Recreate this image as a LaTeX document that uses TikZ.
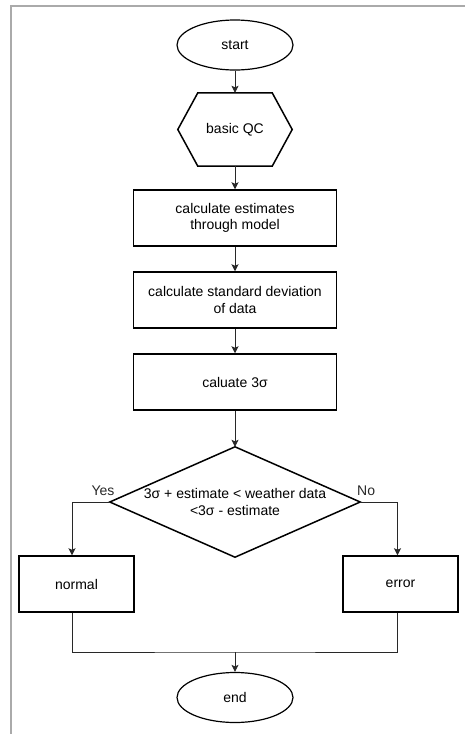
\documentclass[tikz,border=0pt]{standalone}
\usepackage{fontspec}
\setmainfont{Liberation Sans}
\usepackage{tikz}
\usetikzlibrary{arrows.meta,shapes.geometric}
\definecolor{dLine}{RGB}{40,40,40}
\definecolor{dFrame}{RGB}{170,170,170}

\begin{document}
\begin{tikzpicture}[x=1pt,y=1pt,font=\fontsize{14}{16.7}\selectfont,
  bx/.style={draw=black,line width=1.5pt,align=center,minimum width=203pt,minimum height=56pt,inner sep=0pt},
  sB/.style={bx,minimum width=115pt},
  term/.style={ellipse,draw=black,line width=1.2pt,minimum width=116pt,minimum height=50pt,inner sep=0pt},
  hx/.style={align=center,minimum width=114pt,minimum height=73pt,inner sep=0pt},
  dm/.style={align=center,minimum width=250pt,minimum height=110pt,inner sep=0pt},
  edge/.style={draw=black,line width=1.5pt,line join=miter},
  ar/.style={-{Stealth[length=7pt,width=7pt,inset=1.5pt]},line width=0.9pt,dLine},
  ln/.style={line width=0.9pt,dLine},
  lb/.style={font=\fontsize{14}{16}\selectfont}]
\useasboundingbox (0,0) rectangle (465,-734);
\def\C{235}
\draw[dFrame,line width=1.5pt] (465,-6) -- (11,-6) -- (11,-734);
\node[term] (start) at (\C,-45)  {start};
\node[hx]   (qc)    at (\C,-129.5) {basic QC};
\node[bx]   (est)   at (\C,-218) {calculate estimates\\through model};
\node[bx]   (sd)    at (\C,-300) {calculate standard deviation\\of data};
\node[bx]   (sig)   at (\C,-382) {caluate 3σ};
\node[dm]   (dec)   at (\C,-502) {3σ + estimate < weather data\\<3σ - estimate};
\node[sB]   (nor)   at (76.5,-584) {normal};
\node[sB]   (err)   at (400.5,-584) {error};
\node[term] (end)   at (\C,-697.5) {end};
\draw[edge] ([xshift=20pt]qc.north west) -- ([xshift=-20pt]qc.north east) -- (qc.east)
  -- ([xshift=-20pt]qc.south east) -- ([xshift=20pt]qc.south west) -- (qc.west) -- cycle;
\draw[edge] (dec.west) -- (dec.north) -- (dec.east) -- (dec.south) -- cycle;
\coordinate (mrg) at (\C,-652);
\draw[ar] (start) -- (qc.north);
\draw[ar] (qc.south) -- (est);
\draw[ar] (est) -- (sd);
\draw[ar] (sd) -- (sig);
\draw[ar] (sig) -- (dec.north);
\draw[ar] (dec.west) -| node[pos=0.09,above=3pt,lb]{Yes} ([xshift=-4.5pt]nor.north);
\draw[ar] (dec.east) -| node[pos=0.08,above=3pt,lb]{No} ([xshift=-3pt]err.north);
\draw[ln] ([xshift=-4.5pt]nor.south) |- (mrg) -| ([xshift=-3pt]err.south);
\draw[ar] (mrg) -- (end);
\end{tikzpicture}
\end{document}
